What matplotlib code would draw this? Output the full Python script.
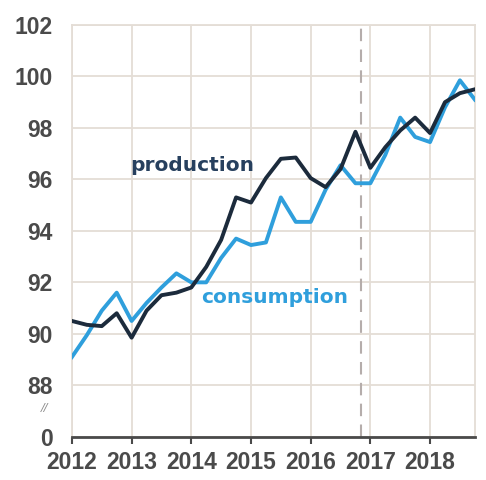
import matplotlib
matplotlib.use('Agg')
import matplotlib.pyplot as plt
import numpy as np

# quarterly index, 2012 Q1 .. 2018 Q4
quarters = np.arange(2012, 2018.76, 0.25)
production = [90.5, 90.35, 90.3, 90.8, 89.85, 90.9, 91.5, 91.6,
              91.8, 92.6, 93.65, 95.3, 95.1, 96.05, 96.8, 96.85,
              96.05, 95.7, 96.4, 97.85, 96.45, 97.25, 97.9, 98.4,
              97.8, 99.0, 99.35, 99.5]
consumption = [89.1, 89.95, 90.9, 91.6, 90.5, 91.2, 91.8, 92.35,
               92.0, 92.0, 92.95, 93.7, 93.45, 93.55, 95.3, 94.35,
               94.35, 95.6, 96.55, 95.85, 95.85, 96.95, 98.4, 97.65,
               97.45, 98.8, 99.85, 99.1]
year_ticks = [2012, 2013, 2014, 2015, 2016, 2017, 2018]
y_ticks = [86, 88, 90, 92, 94, 96, 98, 100, 102]
y_labels = ['0', '88', '90', '92', '94', '96', '98', '100', '102']
forecast_start = 2016.85

dark = '#1c2b3c'
light = '#2f9fdc'
grid_c = '#e4ddd6'
tick_font = ['Liberation Sans', 'DejaVu Sans']

fig = plt.figure(figsize=(4.86, 4.80), dpi=100)
fig.patch.set_facecolor('white')
ax = fig.add_axes([0.148, 0.09, 0.829, 0.858])

ax.plot(quarters, consumption, color=light, linewidth=2.8, zorder=3)
ax.plot(quarters, production, color=dark, linewidth=2.8, zorder=4)
ax.axvline(forecast_start, color='#b5adab', linewidth=1.5, linestyle=(0, (6, 4)), zorder=2)

ax.set_xlim(2012, 2018.75)
ax.set_ylim(86, 102)
ax.set_xticks(year_ticks)
ax.set_xticklabels([str(y) for y in year_ticks], family=tick_font,
                   fontsize=16.5, fontweight='bold', color='#4a4a4a')
ax.set_yticks(y_ticks)
ax.set_yticklabels(y_labels, family=tick_font,
                   fontsize=16.5, fontweight='bold', color='#4a4a4a')
ax.tick_params(axis='y', length=0, pad=14)
ax.tick_params(axis='x', length=5, width=1.5, color='#4a4a4a', pad=5)

ax.grid(True, color=grid_c, linewidth=1.3, zorder=0)
ax.set_axisbelow(True)
for s in ['top', 'right', 'left']:
    ax.spines[s].set_color(grid_c)
    ax.spines[s].set_linewidth(1.3)
ax.spines['bottom'].set_color('#4a4a4a')
ax.spines['bottom'].set_linewidth(2)

# axis break marks
ax.text(-0.068, 0.07, '//', transform=ax.transAxes, fontsize=8,
        color='#8a8a8a', ha='center', va='center', style='italic')

ax.text(2012.97, 96.55, 'production', color='#27405e', fontsize=14.5,
        fontweight='bold', ha='left', va='center')
ax.text(2014.17, 91.4, 'consumption', color=light, fontsize=14.5,
        fontweight='bold', ha='left', va='center')

fig.savefig('out.png', dpi=100)
